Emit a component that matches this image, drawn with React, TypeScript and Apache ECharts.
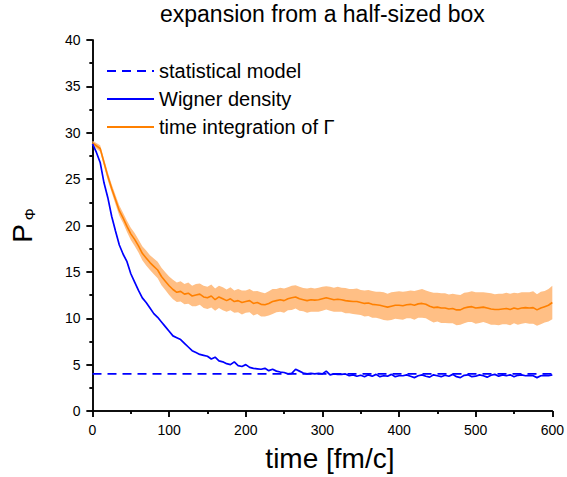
import React, { useEffect, useRef } from "react";
import * as echarts from "echarts";

// time grid: 0..600 fm/c, step 5
const timeStep = 5;

const wigner: number[] = [
  28.8, 27.9, 26.8, 24.6, 23.0, 21.0, 19.4, 17.9, 16.9, 16.1,
  14.8, 13.9, 13.0, 12.2, 11.7, 11.1, 10.5, 10.1, 9.6, 9.1,
  8.6, 8.1, 7.9, 7.7, 7.3, 6.9, 6.5, 6.3, 6.1, 6.0,
  5.9, 5.6, 5.8, 5.4, 5.3, 5.1, 5.0, 5.3, 4.9, 4.8,
  5.0, 4.7, 4.6, 4.55, 4.5, 4.6, 4.35, 4.5, 4.3, 4.2,
  4.15, 4.0, 4.05, 4.5, 4.3, 4.1, 4.0, 4.05, 4.0, 4.05,
  4.0, 4.3, 3.9, 4.0, 3.95, 3.95, 4.0, 3.8, 3.9, 3.75,
  3.85, 3.7, 3.9, 3.75, 3.95, 3.7, 3.8, 3.75, 3.95, 3.7,
  3.8, 3.8, 3.9, 3.75, 3.6, 3.8, 3.9, 3.75, 3.65, 3.9,
  3.8, 3.7, 3.85, 3.75, 3.95, 3.7, 3.6, 3.85, 3.9, 3.7,
  3.75, 3.9, 3.8, 3.65, 3.85, 3.95, 3.75, 3.9, 3.8, 3.9,
  3.7, 3.85, 3.9, 3.8, 3.85, 3.8, 3.6, 3.8, 3.85, 3.8,
  3.9,
];

const gammaMean: number[] = [
  28.9, 28.6, 28.3, 26.8, 25.3, 24.0, 22.8, 21.6, 20.8, 19.9,
  19.1, 18.5, 17.8, 17.0, 16.5, 16.0, 15.6, 15.2, 14.5, 14.0,
  13.5, 13.1, 12.8, 12.9, 12.6, 12.7, 12.4, 12.5, 12.6, 12.3,
  12.2, 12.4, 12.0, 12.3, 12.1, 11.9, 12.1, 11.8, 11.9, 11.7,
  11.8, 11.9, 11.6, 11.7, 11.5, 11.45, 11.6, 11.8, 11.9, 12.0,
  11.9, 12.1, 12.2, 12.3, 12.1, 12.0, 11.9, 12.0, 11.95, 12.0,
  12.1, 12.2, 12.1, 12.0, 12.05, 12.0, 11.9, 11.85, 11.8, 11.8,
  11.7, 11.6, 11.65, 11.5, 11.45, 11.4, 11.3, 11.2, 11.3, 11.4,
  11.4, 11.35, 11.45, 11.5, 11.4, 11.55, 11.6, 11.5, 11.3, 11.15,
  11.2, 11.1, 11.1, 11.0, 11.05, 10.9, 10.9, 11.1, 11.2, 11.25,
  11.1, 11.15, 11.2, 11.1, 11.0, 10.95, 10.95, 11.0, 11.05, 10.95,
  11.1, 11.0, 11.1, 11.15, 11.1, 11.15, 10.9, 11.1, 11.25, 11.4,
  11.7,
];

const gammaErr: number[] = [
  0.25, 0.3, 0.35, 0.4, 0.45, 0.45, 0.5, 0.55, 0.55, 0.6,
  0.65, 0.7, 0.7, 0.75, 0.8, 0.8, 0.85, 0.9, 0.95, 0.95,
  1.0, 1.05, 1.05, 1.1, 1.1, 1.15, 1.1, 1.2, 1.15, 1.2,
  1.2, 1.25, 1.2, 1.2, 1.25, 1.2, 1.25, 1.2, 1.25, 1.3,
  1.2, 1.25, 1.3, 1.25, 1.3, 1.25, 1.3, 1.35, 1.25, 1.3,
  1.3, 1.25, 1.3, 1.25, 1.3, 1.25, 1.3, 1.3, 1.25, 1.3,
  1.3, 1.25, 1.3, 1.3, 1.35, 1.3, 1.35, 1.3, 1.35, 1.4,
  1.35, 1.4, 1.4, 1.45, 1.4, 1.45, 1.5, 1.45, 1.5, 1.45,
  1.5, 1.5, 1.45, 1.5, 1.55, 1.5, 1.55, 1.5, 1.55, 1.6,
  1.55, 1.6, 1.6, 1.55, 1.6, 1.65, 1.6, 1.65, 1.6, 1.65,
  1.7, 1.65, 1.6, 1.65, 1.7, 1.65, 1.7, 1.65, 1.7, 1.7,
  1.65, 1.7, 1.7, 1.65, 1.7, 1.75, 1.7, 1.75, 1.7, 1.75,
  1.8,
];

const statisticalModel = 4.0;
const timeRange = [0, 600];

const legendNames = ["statistical model", "Wigner density", "time integration of Γ"];

const FONT = "'Liberation Sans', Arial, Helvetica, sans-serif";

export default function App() {
  const ref = useRef<HTMLDivElement>(null);

  useEffect(() => {
    if (!ref.current) return;
    const chart = echarts.init(ref.current, undefined, { renderer: "svg" });

    const t = (i: number) => i * timeStep;
    const wignerData = wigner.map((v, i) => [t(i), v]);
    const meanData = gammaMean.map((v, i) => [t(i), v]);
    const bandData = gammaMean.map((v, i) => [t(i), v - gammaErr[i], v + gammaErr[i]]);
    const statData = [
      [timeRange[0], statisticalModel],
      [timeRange[1], statisticalModel],
    ];

    const axisLine = { show: true, lineStyle: { color: "#000", width: 1.5 } };
    const tickStyle = { color: "#000", width: 1.5 };

    chart.setOption({
      animation: false,
      backgroundColor: "#fff",
      textStyle: { fontFamily: FONT },
      title: {
        text: "expansion from a half-sized box",
        left: 160,
        top: 2,
        padding: 0,
        textStyle: { fontFamily: FONT, fontSize: 23, fontWeight: "normal", color: "#000" },
      },
      legend: {
        data: legendNames,
        orient: "vertical",
        left: 106,
        top: 60,
        padding: 0,
        itemWidth: 47,
        itemHeight: 14,
        itemGap: 6,
        itemStyle: { opacity: 0 },
        textStyle: { fontFamily: FONT, fontSize: 20, color: "#000", lineHeight: 22 },
      },
      grid: { left: 90, right: 14, top: 40, bottom: 64, containLabel: false },
      xAxis: [
        {
          type: "value",
          min: 0,
          max: 600,
          interval: 100,
          name: "time [fm/c]",
          nameLocation: "middle",
          nameGap: 33,
          nameTextStyle: { fontFamily: FONT, fontSize: 28, color: "#000", padding: [0, 0, 0, 15] },
          axisLine,
          axisTick: { show: true, length: 6, lineStyle: tickStyle },
          minorTick: { show: true, splitNumber: 2, length: 3, lineStyle: tickStyle },
          axisLabel: { fontFamily: FONT, fontSize: 14, color: "#000", margin: 12 },
          splitLine: { show: false },
        },
        {
          type: "value",
          position: "top",
          min: 0,
          max: 600,
          interval: 100,
          axisLine,
          axisTick: { show: true, inside: true, length: 6, lineStyle: tickStyle },
          minorTick: { show: true, splitNumber: 2, length: 3, lineStyle: tickStyle },
          axisLabel: { show: false },
          splitLine: { show: false },
        },
      ],
      yAxis: [
        {
          type: "value",
          min: 0,
          max: 40,
          interval: 5,
          name: "{p|P}{s|Φ}",
          nameLocation: "middle",
          nameRotate: 90,
          nameGap: 56,
          nameTextStyle: {
            rich: {
              p: { fontFamily: FONT, fontSize: 28, color: "#000" },
              s: { fontFamily: FONT, fontSize: 15, color: "#000", padding: [14, 0, 0, 4] },
            },
          },
          axisLine,
          axisTick: { show: true, length: 6, lineStyle: tickStyle },
          minorTick: { show: true, splitNumber: 2, length: 3, lineStyle: tickStyle },
          axisLabel: { fontFamily: FONT, fontSize: 14, color: "#000", margin: 12 },
          splitLine: { show: false },
        },
        {
          type: "value",
          position: "right",
          min: 0,
          max: 40,
          interval: 5,
          axisLine,
          axisTick: { show: true, inside: true, length: 6, lineStyle: tickStyle },
          minorTick: { show: true, splitNumber: 2, length: 3, lineStyle: tickStyle },
          axisLabel: { show: false },
          splitLine: { show: false },
        },
      ],
      series: [
        {
          name: "band",
          type: "custom",
          data: bandData,
          encode: { x: 0, y: [1, 2] },
          silent: true,
          z: 1,
          renderItem: (params: any, api: any) => {
            if (params.dataIndex !== 0) return null;
            const upper: number[][] = [];
            const lower: number[][] = [];
            for (let i = 0; i < bandData.length; i++) {
              upper.push(api.coord([bandData[i][0], bandData[i][2]]));
              lower.push(api.coord([bandData[i][0], bandData[i][1]]));
            }
            const pts = upper.concat(lower.reverse());
            return {
              type: "polygon",
              shape: { points: pts },
              style: { fill: "#ffbf85", stroke: "none" },
            };
          },
        },
        {
          name: "time integration of Γ",
          type: "line",
          data: meanData,
          symbol: "none",
          color: "#ff8000",
          lineStyle: { color: "#ff8000", width: 1.6 },
          z: 3,
        },
        {
          name: "statistical model",
          type: "line",
          data: statData,
          symbol: "none",
          color: "#0000ff",
          lineStyle: { color: "#0000ff", width: 1.6, type: [9, 6] },
          z: 3,
        },
        {
          name: "Wigner density",
          type: "line",
          data: wignerData,
          symbol: "none",
          color: "#0000ff",
          lineStyle: { color: "#0000ff", width: 1.7 },
          z: 4,
        },
      ],
    });

    return () => chart.dispose();
  }, []);

  return (
    <div
      ref={ref}
      style={{ position: "fixed", left: 0, top: 0, width: 567, height: 477, background: "#fff" }}
    />
  );
}
